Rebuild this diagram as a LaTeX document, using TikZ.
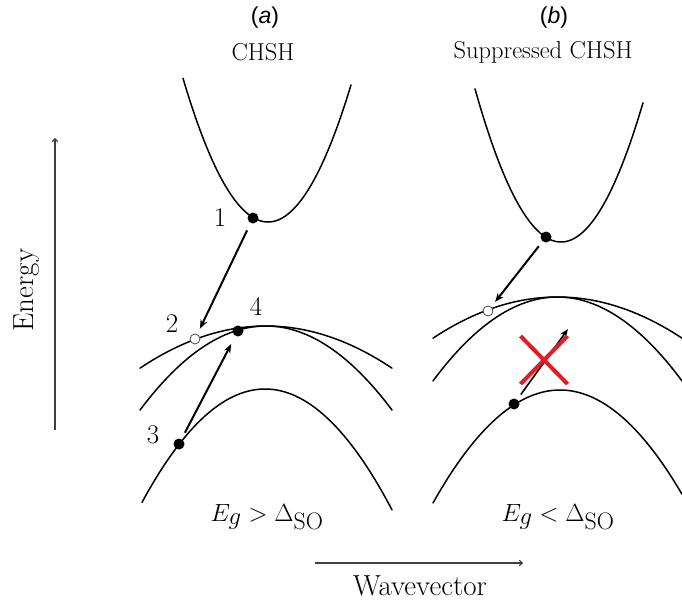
\documentclass[tikz,border=0pt]{standalone}
\usepackage{fontspec}
\usetikzlibrary{arrows.meta,shapes.misc}
\newfontfamily\labfont{Liberation Sans}
\definecolor{xred}{RGB}{225,30,36}
\begin{document}
\begin{tikzpicture}[x=1pt,y=-1pt,
  band/.style={line width=1.5pt, line cap=round},
  trans/.style={line width=2pt, -{Stealth[length=9pt,width=7pt,inset=3pt]}},
  axisline/.style={line width=1.1pt, draw=black!75, -{To[length=4pt,width=6pt]}},
  fdot/.style={circle, fill=black, inner sep=0pt, minimum size=11pt},
  odot/.style={circle, draw=black!65, line width=0.9pt, fill=white, inner sep=0pt, minimum size=10pt},
  num/.style={font=\fontsize{27}{30}\selectfont, inner sep=0pt},
  ttl/.style={font=\fontsize{24.5}{28}\selectfont, inner sep=0pt},
  panel/.style={font=\labfont\fontsize{23}{26}\selectfont, inner sep=0pt},
  axlab/.style={font=\fontsize{29}{33}\selectfont, inner sep=0pt},
  cond/.style={font=\fontsize{34}{38}\selectfont, inner sep=0pt},
  xmark/.style={cross out, draw=xred, line width=4pt, inner sep=0pt, minimum width=43pt, minimum height=44pt}
]
\useasboundingbox (0,0) rectangle (682,602);

% titles
\node[panel] (pa) at (265,18) {(\textit{a})};
\node[panel] (pb) at (554,18) {(\textit{b})};
\node[ttl] (ta) at (263,52) {CHSH};
\node[ttl] (tb) at (543,52) {Suppressed CHSH};

% axes
\coordinate (ebot) at (55,430);
\coordinate (etop) at (55,138);
\draw[axisline] (ebot) -- (etop);
\node[axlab, rotate=90] (elab) at (27,290) {Energy};
\coordinate (wl) at (315,563);
\coordinate (wr) at (523,563);
\draw[axisline] (wl) -- (wr);
\node[axlab, anchor=base] (wlab) at (420,595) {Wavevector};

% panel (a) bands
\draw[band] plot[domain=183:351, samples=80] (\x,{222-0.0199*(\x-268)^2});
\draw[band] plot[domain=140:392, samples=80] (\x,{326+0.00265*(\x-266)^2});
\draw[band] plot[domain=140:392, samples=80] (\x,{326+0.00529*(\x-266)^2});
\draw[band] plot[domain=142:392, samples=80] (\x,{389+0.00749*(\x-265)^2});

% panel (b) bands
\draw[band] plot[domain=475:643, samples=80] (\x,{242-0.0207*(\x-561)^2});
\draw[band] plot[domain=433:682, samples=80] (\x,{297+0.00265*(\x-557.5)^2});
\draw[band] plot[domain=433:682, samples=80] (\x,{297+0.00542*(\x-557.5)^2});
\draw[band] plot[domain=433:682, samples=80] (\x,{390+0.0070*(\x-560)^2});

% panel (a) states
\node[fdot] (a1) at (253,218) {};
\node[odot] (a2) at (195,339) {};
\node[fdot] (a3) at (179,444) {};
\node[fdot] (a4) at (238,331) {};
\node[num] (n1) at (220,218) {1};
\node[num] (n2) at (172,324) {2};
\node[num] (n3) at (153,435) {3};
\node[num] (n4) at (256,306) {4};
\draw[trans, shorten <=8pt, shorten >=6pt] (a1) -- (a2);
\draw[trans, shorten <=7pt, shorten >=9pt] (a3) -- (a4);

% panel (b) states
\node[fdot] (b1) at (546,237) {};
\node[odot] (b2) at (488,311) {};
\node[fdot] (b3) at (514,404) {};
\coordinate (b4) at (568,329);
\draw[trans, shorten <=6pt, shorten >=6pt] (b1) -- (b2);
\draw[trans, line width=1.6pt, shorten <=6pt] (b3) -- (b4);
\node[xmark] (cross) at (544,360) {};

% conditions
\node[cond] (ca) at (267,517) {$E_g > \Delta_{\mathrm{SO}}$};
\node[cond] (cb) at (558,517) {$E_g < \Delta_{\mathrm{SO}}$};
\end{tikzpicture}
\end{document}
